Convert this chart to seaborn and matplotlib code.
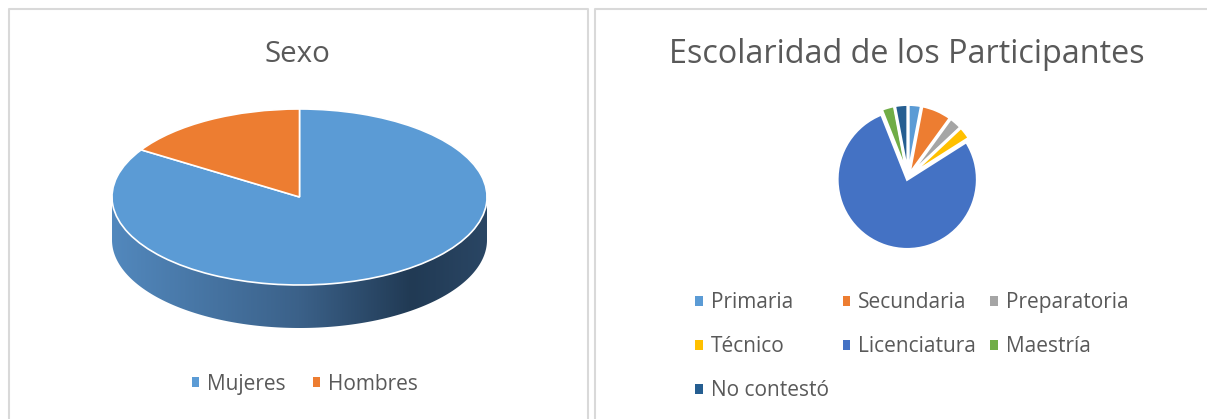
import numpy as np
import matplotlib
matplotlib.use("Agg")
import matplotlib.pyplot as plt
import seaborn as sns
from matplotlib.transforms import Affine2D
from matplotlib.path import Path
from matplotlib.patches import PathPatch
from matplotlib.colors import LinearSegmentedColormap

# data
sexo_labels = ["Mujeres", "Hombres"]
sexo_values = [84, 16]

esc_labels = ["Primaria", "Secundaria", "Preparatoria", "Técnico",
              "Licenciatura", "Maestría", "No contestó"]
esc_values = [3, 7, 3, 3, 78, 3, 3]

sexo_colors = sns.color_palette(["#5B9BD5", "#ED7D31"])
esc_colors = sns.color_palette(["#5B9BD5", "#ED7D31", "#A5A5A5", "#FFC000",
                                "#4472C4", "#70AD47", "#255E91"])

sns.set_theme(style="white")
plt.rcParams['font.family'] = ['Open Sans', 'DejaVu Sans']
txt = "#595959"

W, H = 1207, 419
fig = plt.figure(figsize=(W / 100, H / 100), dpi=100)
ax = fig.add_axes([0, 0, 1, 1])

# ---- left: 3D-ish pie
cx, cy = 299.5, H - 197
rx, ry, depth = 187.5, 88, 43
t = np.linspace(np.pi, 2 * np.pi, 200)
top = np.column_stack([cx + rx * np.cos(t), cy + ry * np.sin(t)])
bot = np.column_stack([cx + rx * np.cos(t[::-1]), cy - depth + ry * np.sin(t[::-1])])
side = Path(np.vstack([top, bot, top[:1]]), closed=True)
side_patch = PathPatch(side, facecolor="none", edgecolor="none")
ax.add_patch(side_patch)
grad_cmap = LinearSegmentedColormap.from_list(
    "side", [(0, "#5288bd"), (0.5, "#3b6189"), (0.8, "#213a54"), (1, "#2a4664")])
img = ax.imshow(np.linspace(0, 1, 256)[None, :], cmap=grad_cmap, aspect="auto",
                extent=[cx - rx, cx + rx, cy - depth - ry, cy], zorder=1)
img.set_clip_path(side_patch)

wedges, _ = ax.pie(sexo_values, colors=sexo_colors, startangle=90, counterclock=False,
                   wedgeprops=dict(edgecolor="white", linewidth=1.2))
squash = Affine2D().scale(rx, ry).translate(cx, cy) + ax.transData
for w in wedges:
    w.set_transform(squash)
    w.set_zorder(2)

ax.set_xlim(0, W)
ax.set_ylim(0, H)
ax.set_aspect("auto")
ax.axis("off")

# panel borders
bc = "#d9d9d9"
ax.plot([8.5, 8.5, 588, 588], [-5, H - 9, H - 9, -5], color=bc, lw=1.5, clip_on=False)
ax.plot([595, 595, W + 5], [-5, H - 9, H - 9], color=bc, lw=1.5, clip_on=False)

ax.text(297.5, H - 62, "Sexo", ha="center", va="baseline", fontsize=21.3, color=txt)
ax.text(906.5, H - 63, "Escolaridad de los Participantes", ha="center",
        va="baseline", fontsize=23.3, color=txt)

leg1 = fig.legend(wedges, sexo_labels, loc="center", bbox_to_anchor=(305 / W, (H - 384) / H),
                  ncols=2, frameon=False, fontsize=15, labelcolor=txt,
                  handlelength=0.34, handleheight=0.34, handletextpad=0.4, columnspacing=1.3)

# ---- right: pie with white gaps
r_px = 70
pcx, pcy = 908, H - 177
half = 1.3 * r_px
ax2 = fig.add_axes([(pcx - half) / W, (pcy - half) / H, 2 * half / W, 2 * half / H])
w2, _ = ax2.pie(esc_values, colors=esc_colors, startangle=90, counterclock=False,
                explode=[0.035] * len(esc_values),
                wedgeprops=dict(edgecolor="white", linewidth=2.0))
ax2.set_xlim(-1.3, 1.3)
ax2.set_ylim(-1.3, 1.3)
ax2.axis("off")

# legend fills column by column, reorder so rows read left to right
order = [0, 3, 6, 1, 4, 2, 5]
leg2 = fig.legend([w2[i] for i in order], [esc_labels[i] for i in order], loc="upper left",
                  bbox_to_anchor=(685 / W, (H - 282) / H), ncols=3, frameon=False,
                  fontsize=15, labelcolor=txt, handlelength=0.34, handleheight=0.34,
                  handletextpad=0.4, columnspacing=0.68, labelspacing=1.1, borderpad=0)

for leg in (leg1, leg2):
    for h in leg.legend_handles:
        h.set_linewidth(0)

fig.savefig("out.png", dpi=100)
